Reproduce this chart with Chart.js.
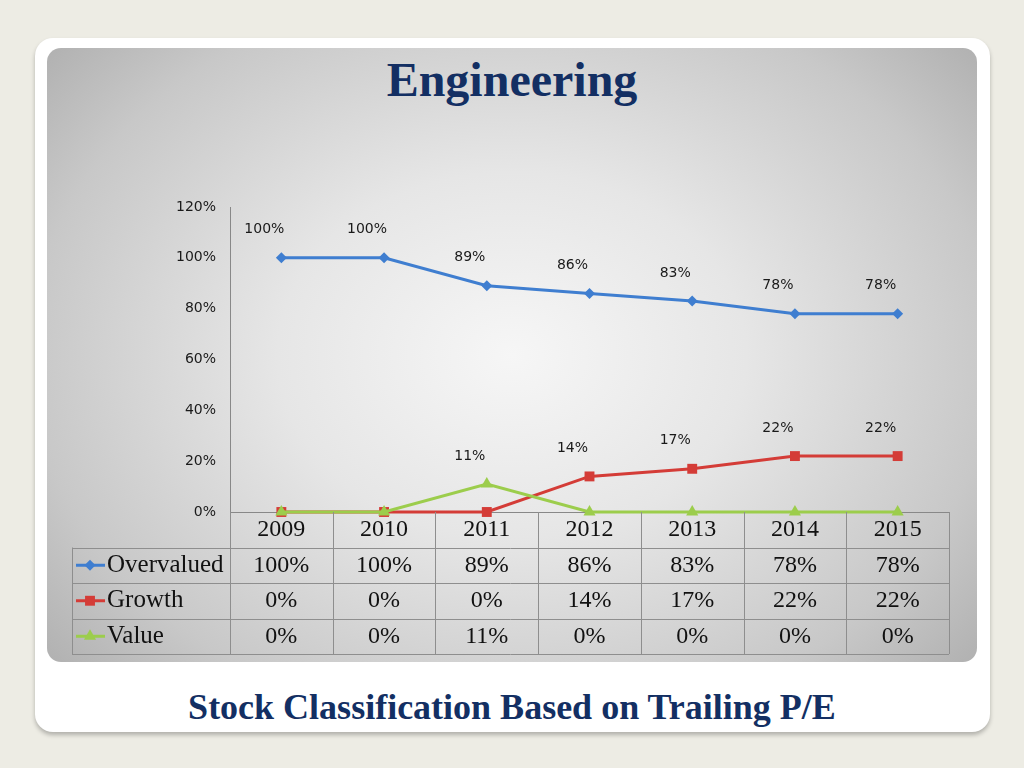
<!DOCTYPE html>
<html>
<head>
<meta charset="utf-8">
<script src="https://cdn.jsdelivr.net/npm/chart.js@4"></script>
<style>
  html, body { margin: 0; padding: 0; }
  body { width: 1024px; height: 768px; background: #edece4; position: relative; overflow: hidden; }
  .card { position: absolute; left: 35px; top: 38px; width: 955px; height: 694px; background: #fff;
          border-radius: 18px; box-shadow: 0 3px 4px rgba(0,0,0,0.25); }
  .panel { position: absolute; left: 47px; top: 48px; width: 930px; height: 614px; border-radius: 14px;
           background: radial-gradient(ellipse 72% 85% at 50% 50%, #f6f6f6 0%, #e6e6e6 35%, #c8c8c8 72%, #a6a6a6 100%); }
  h1, h2 { position: absolute; left: 0; width: 1024px; margin: 0; text-align: center; color: #132f63;
           font-family: "Palatino Linotype", "Book Antiqua", Palatino, "Liberation Serif", serif; font-weight: bold; }
  h1 { top: 52px; font-size: 48px; }
  h2 { top: 686px; font-size: 36px; }
  canvas { position: absolute; left: 47px; top: 48px; }
</style>
</head>
<body>
<div class="card"></div>
<div class="panel"></div>
<h1>Engineering</h1>
<canvas id="chart" width="930" height="614"></canvas>
<h2>Stock Classification Based on Trailing P/E</h2>
<script>
// ---- data ----
const years = ["2009", "2010", "2011", "2012", "2013", "2014", "2015"];
const overvalued = [100, 100, 89, 86, 83, 78, 78];
const growth = [0, 0, 0, 14, 17, 22, 22];
const value = [0, 0, 11, 0, 0, 0, 0];

const SERIF = '"Palatino Linotype", "Book Antiqua", Palatino, "Liberation Serif", serif';
const SANS = 'Verdana, "DejaVu Sans", sans-serif';

// labels above the points (zero values are not labelled)
const pointLabels = {
    id: "pointLabels",
    afterDatasetsDraw(chart) {
        const ctx = chart.ctx;
        ctx.save();
        ctx.font = "14px " + SANS;
        ctx.fillStyle = "#1a1a1a";
        ctx.textAlign = "center";
        ctx.textBaseline = "middle";
        chart.data.datasets.forEach((ds, i) => {
            chart.getDatasetMeta(i).data.forEach((pt, j) => {
                if (!ds.data[j]) return;
                ctx.fillText(ds.data[j] + "%", pt.x - 17, pt.y - 28);
            });
        });
        ctx.restore();
    }
};

// data table under the plot
const dataTable = {
    id: "dataTable",
    afterDraw(chart) {
        const ctx = chart.ctx;
        const area = chart.chartArea;
        const xs = chart.scales.x;
        const band = (area.right - area.left) / years.length;
        const rowH = 35.5;
        const leftX = 25;
        const top = area.bottom;
        const bottom = top + rowH * 4;

        ctx.save();
        ctx.strokeStyle = "#8e8e8e";
        ctx.lineWidth = 1;
        ctx.beginPath();
        for (let r = 1; r <= 4; r++) {
            const y = Math.round(top + rowH * r) + 0.5;
            ctx.moveTo(leftX, y); ctx.lineTo(area.right, y);
        }
        for (let c = 0; c <= years.length; c++) {
            const x = Math.round(area.left + band * c) + 0.5;
            ctx.moveTo(x, top); ctx.lineTo(x, bottom);
        }
        ctx.moveTo(leftX + 0.5, top + rowH); ctx.lineTo(leftX + 0.5, bottom);
        ctx.stroke();

        ctx.font = "24px " + SERIF;
        ctx.fillStyle = "#111";
        ctx.textBaseline = "middle";
        ctx.textAlign = "center";
        years.forEach((yr, j) => {
            ctx.fillText(yr, xs.getPixelForValue(j), top + rowH / 2);
        });
        chart.data.datasets.forEach((ds, i) => {
            const cy = top + rowH * (i + 1.5);
            ctx.textAlign = "center";
            ds.data.forEach((v, j) => {
                ctx.fillText(v + "%", xs.getPixelForValue(j), cy);
            });
            // legend key
            ctx.strokeStyle = ds.borderColor;
            ctx.lineWidth = 3;
            ctx.beginPath();
            ctx.moveTo(leftX + 4, cy); ctx.lineTo(leftX + 33, cy);
            ctx.stroke();
            ctx.fillStyle = ds.pointBackgroundColor;
            Chart.helpers.drawPoint(ctx, {
                pointStyle: ds.pointStyle, radius: ds.pointRadius, rotation: 0, borderWidth: 0
            }, leftX + 18, cy);
            ctx.fillStyle = "#111";
            ctx.textAlign = "left";
            ctx.font = "25px " + SERIF;
            ctx.fillText(ds.label, leftX + 35, cy);
            ctx.font = "24px " + SERIF;
        });
        ctx.restore();
    }
};

new Chart(document.getElementById("chart"), {
    type: "line",
    data: {
        labels: years,
        datasets: [
            {
                label: "Overvalued", data: overvalued, order: 2,
                borderColor: "#3f7ed0", backgroundColor: "#3f7ed0", pointBackgroundColor: "#3f7ed0",
                pointBorderWidth: 0, pointStyle: "rectRot", pointRadius: 5.5, borderWidth: 3, clip: false
            },
            {
                label: "Growth", data: growth, order: 1,
                borderColor: "#d43c37", backgroundColor: "#d43c37", pointBackgroundColor: "#d43c37",
                pointBorderWidth: 0, pointStyle: "rect", pointRadius: 7, borderWidth: 3, clip: false
            },
            {
                label: "Value", data: value, order: 0,
                borderColor: "#9ccd4c", backgroundColor: "#9ccd4c", pointBackgroundColor: "#9ccd4c",
                pointBorderWidth: 0, pointStyle: "triangle", pointRadius: 7, borderWidth: 3, clip: false
            }
        ]
    },
    options: {
        responsive: false,
        animation: false,
        layout: { padding: { top: 159, right: 28, bottom: 150, left: 0 } },
        plugins: { legend: { display: false }, tooltip: { enabled: false } },
        scales: {
            x: {
                offset: true,
                grid: { display: false },
                border: { display: true, color: "#888", width: 1 },
                ticks: { display: false },
                afterFit: s => { s.height = 0; }
            },
            y: {
                min: 0, max: 120,
                grid: { display: false },
                border: { display: true, color: "#888", width: 1 },
                ticks: {
                    stepSize: 20, padding: 6, color: "#1a1a1a",
                    font: { family: SANS, size: 14 },
                    callback: v => v + "%"
                },
                afterFit: s => { s.width = 183; }
            }
        }
    },
    plugins: [pointLabels, dataTable]
});
</script>
</body>
</html>
